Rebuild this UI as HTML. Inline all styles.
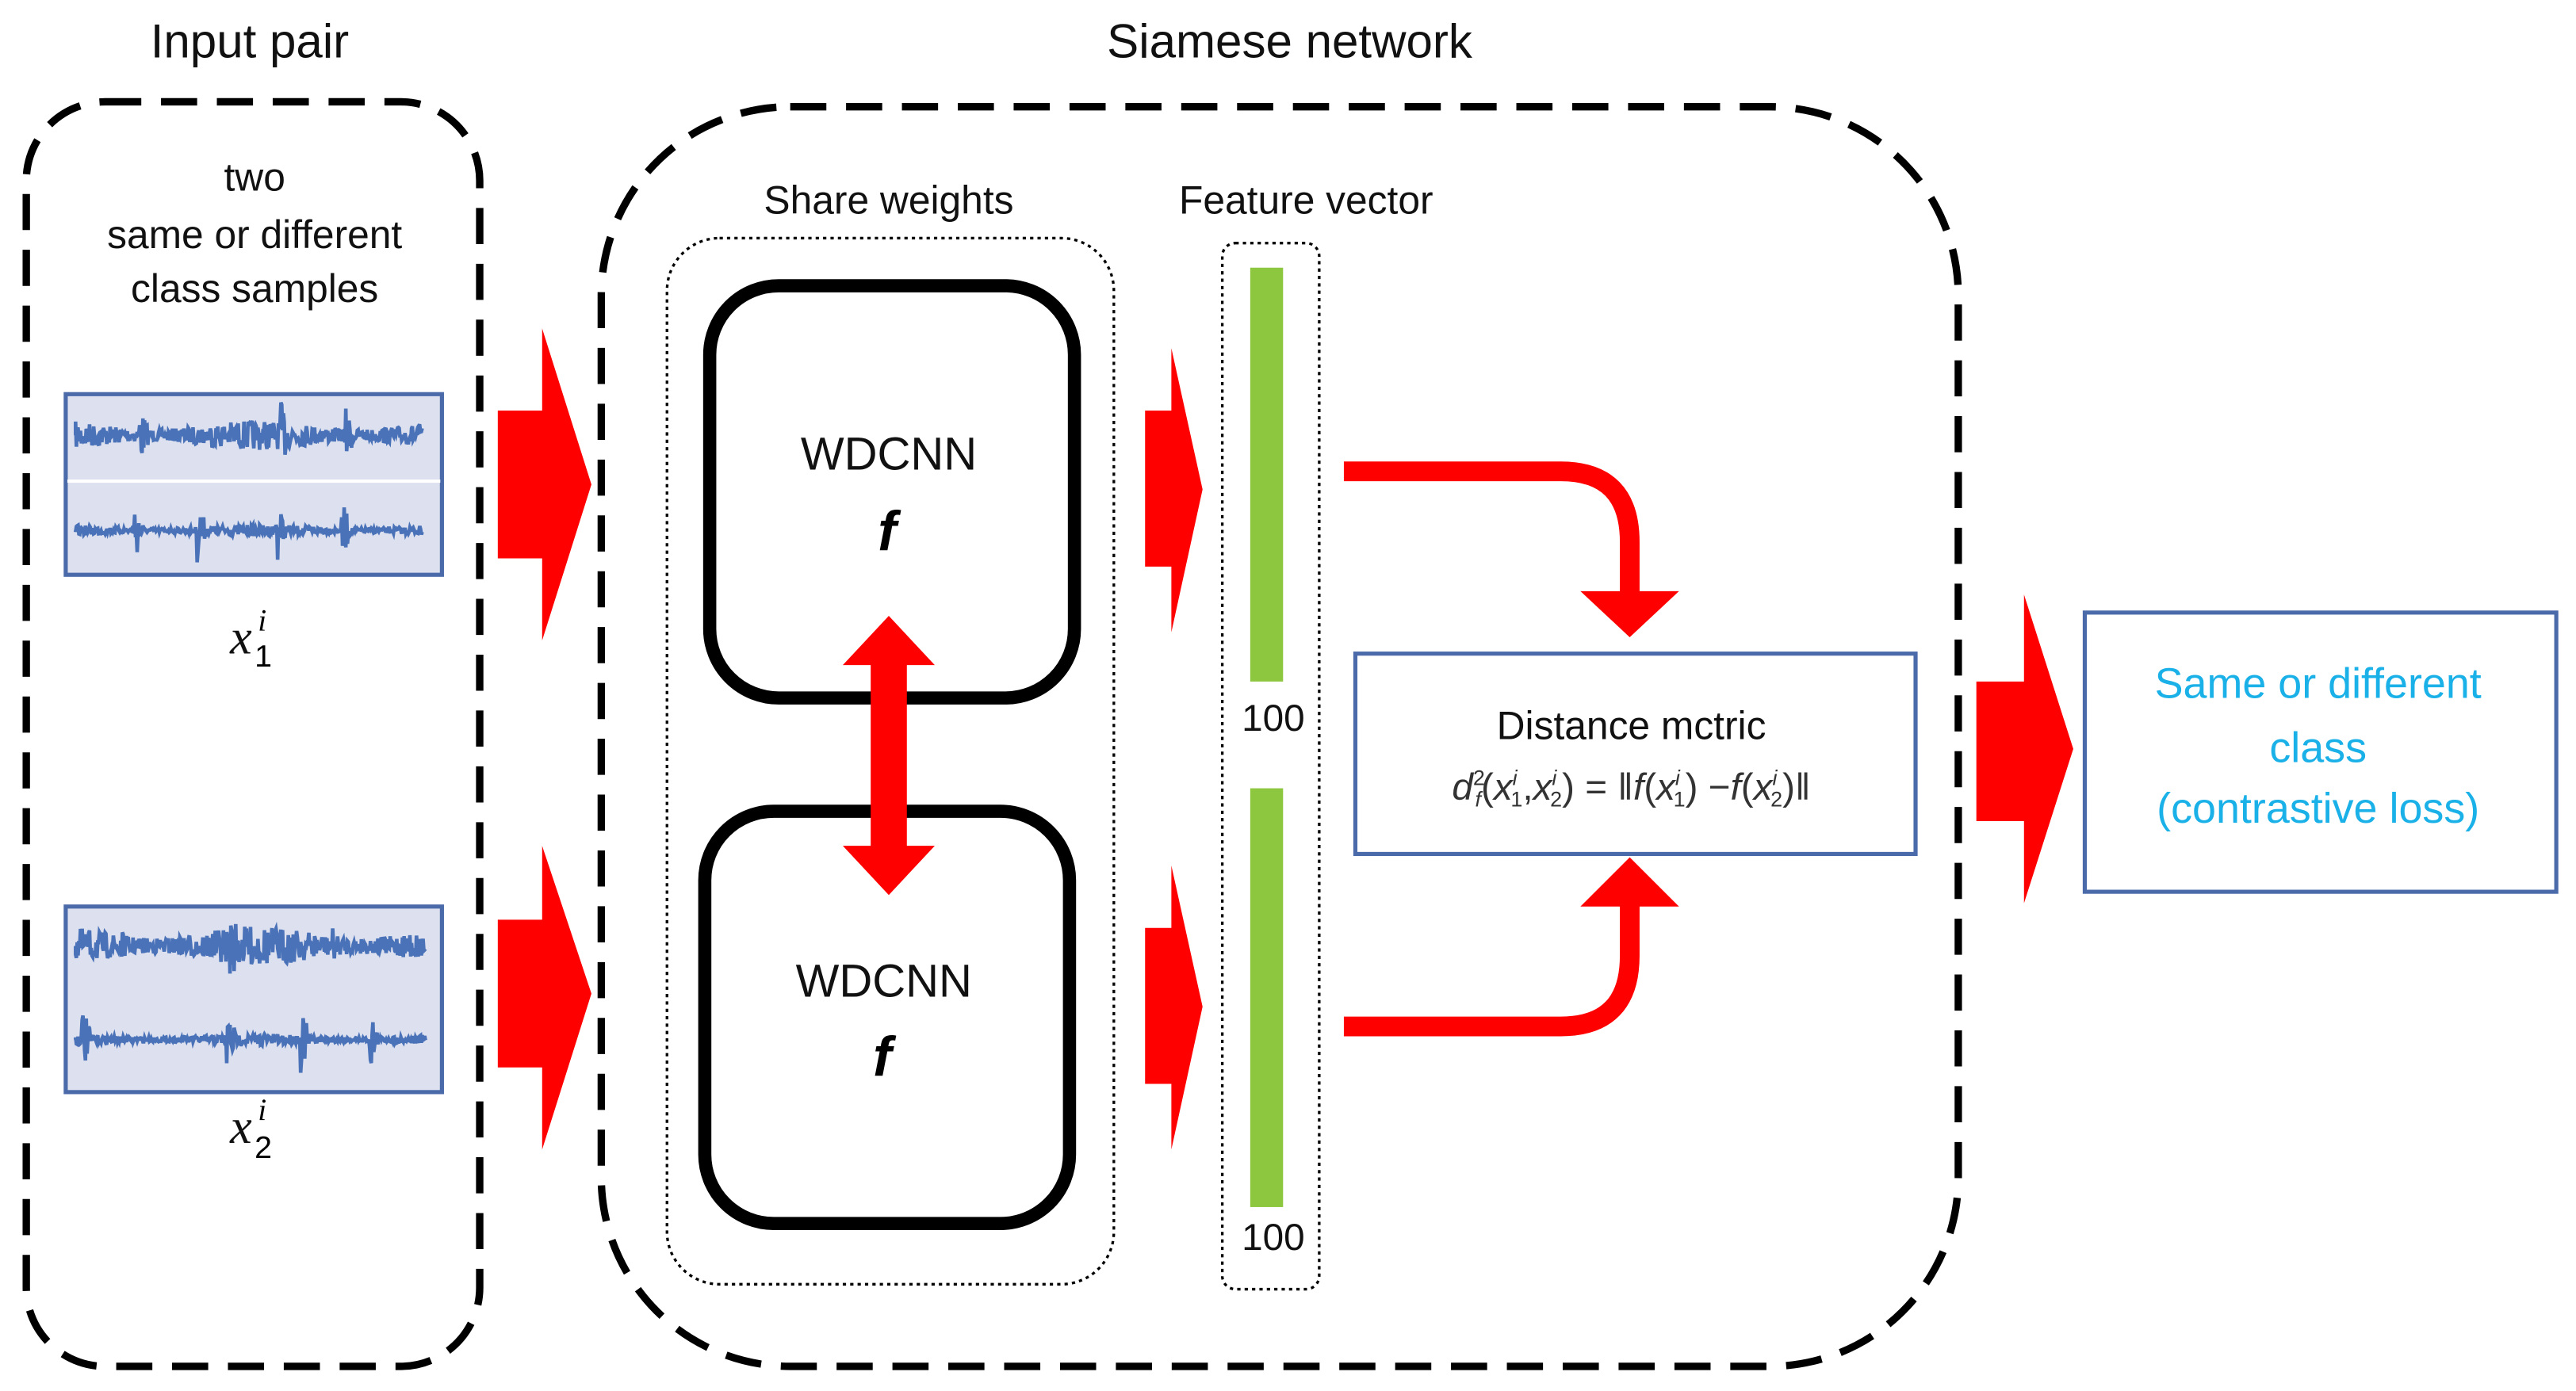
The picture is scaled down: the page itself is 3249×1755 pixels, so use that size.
<!DOCTYPE html>
<html><head><meta charset="utf-8"><style>
html,body{margin:0;padding:0;background:#fff;}
svg{display:block;}
text{font-family:"Liberation Sans",sans-serif;}
.m{font-family:"Liberation Serif",serif;font-style:italic;}
</style></head><body>
<svg id="s" width="3249" height="1755" viewBox="0 0 1568 847" preserveAspectRatio="none" xmlns="http://www.w3.org/2000/svg">
<rect width="1568" height="847" fill="#fff"/>
<text x="152" y="35" font-size="29" text-anchor="middle" fill="#111">Input pair</text>
<text x="785" y="35" font-size="29" text-anchor="middle" fill="#111">Siamese network</text>
<rect x="16" y="62" width="276" height="770" rx="48" fill="none" stroke="#000" stroke-width="4.5" stroke-dasharray="22 12"/>
<rect x="366" y="65" width="826" height="767" rx="115" fill="none" stroke="#000" stroke-width="4.5" stroke-dasharray="22 12"/>
<g font-size="24" text-anchor="middle" fill="#111">
<text x="155" y="116">two</text>
<text x="155" y="151">same or different</text>
<text x="155" y="184">class samples</text>
<text x="541" y="130">Share weights</text>
<text x="795" y="130">Feature vector</text>
</g>
<rect x="40" y="240" width="229" height="110" fill="#dde0ee" stroke="#4a6aaa" stroke-width="2.5"/>
<line x1="41" y1="293" x2="268" y2="293" stroke="#fff" stroke-width="2"/>
<rect x="40" y="552" width="229" height="113" fill="#dde0ee" stroke="#4a6aaa" stroke-width="2.5"/>
<path id="w1" fill="none" stroke="#4a72b8" stroke-width="2.2"/>
<path id="w2" fill="none" stroke="#4a72b8" stroke-width="2.2"/>
<path id="w3" fill="none" stroke="#4a72b8" stroke-width="2.2"/>
<path id="w4" fill="none" stroke="#4a72b8" stroke-width="2.2"/>
<text class="m" x="140" y="398" font-size="30" fill="#111">x</text><text class="m" x="157" y="384" font-size="19">i</text><text x="155" y="406" font-size="19" font-family="Liberation Serif">1</text>
<text class="m" x="140" y="696" font-size="30" fill="#111">x</text><text class="m" x="157" y="682" font-size="19">i</text><text x="155" y="705" font-size="19" font-family="Liberation Serif">2</text>
<g fill="#ff0000">
<polygon points="303,250 330,250 330,200 360,295 330,390 330,340 303,340"/>
<polygon points="303,560 330,560 330,515 360,605 330,700 330,650 303,650"/>
<polygon points="697,250 713,250 713,212 732,298 713,385 713,345 697,345"/>
<polygon points="697,565 713,565 713,527 732,613 713,700 713,660 697,660"/>
<polygon points="1203,415 1232,415 1232,362 1262,456 1232,550 1232,500 1203,500"/>
<polygon points="962,360 1022,360 992,388"/>
<polygon points="962,552 1022,552 992,522"/>
</g>
<path d="M818,287 H950 Q992,287 992,330 V362" fill="none" stroke="#ff0000" stroke-width="12"/>
<path d="M818,625 H950 Q992,625 992,582 V550" fill="none" stroke="#ff0000" stroke-width="12"/>
<rect x="406" y="145" width="272" height="637" rx="32" fill="none" stroke="#000" stroke-width="1.6" stroke-dasharray="2 2.5"/>
<rect x="432" y="174" width="222" height="251" rx="42" fill="none" stroke="#000" stroke-width="8"/>
<rect x="429" y="494" width="222" height="251" rx="42" fill="none" stroke="#000" stroke-width="8"/>
<text x="541" y="286" font-size="28" text-anchor="middle" fill="#111">WDCNN</text>
<text x="538" y="607" font-size="28" text-anchor="middle" fill="#111">WDCNN</text>
<text x="540" y="335" font-size="34" text-anchor="middle" font-family="Liberation Serif" font-style="italic" font-weight="bold">f</text>
<text x="537" y="655" font-size="34" text-anchor="middle" font-family="Liberation Serif" font-style="italic" font-weight="bold">f</text>
<polygon fill="#ff0000" points="530,405 513,405 541,375 569,405 552,405 552,515 569,515 541,545 513,515 530,515"/>
<rect x="744" y="148" width="59" height="637" rx="8" fill="none" stroke="#000" stroke-width="1.6" stroke-dasharray="2 2.5"/>
<rect x="761" y="163" width="20" height="252" fill="#8dc63f"/>
<rect x="761" y="480" width="20" height="255" fill="#8dc63f"/>
<text x="775" y="445" font-size="23" text-anchor="middle" fill="#111">100</text>
<text x="775" y="761" font-size="23" text-anchor="middle" fill="#111">100</text>
<rect x="825" y="398" width="341" height="122" fill="#fff" stroke="#4a6aaa" stroke-width="2.5"/>
<text x="993" y="450" font-size="24" text-anchor="middle" fill="#111">Distance  mctric</text>
<text x="993" y="487" font-size="23" text-anchor="middle" fill="#333" font-family="Liberation Serif"><tspan font-style="italic">d</tspan><tspan font-size="13" dy="-9">2</tspan><tspan font-size="13" dx="-6" dy="13" font-style="italic">f</tspan><tspan dy="-4">(</tspan><tspan font-style="italic">x</tspan><tspan font-size="13" dy="-9" font-style="italic">i</tspan><tspan font-size="13" dx="-4" dy="13">1</tspan><tspan dy="-4">,</tspan><tspan font-style="italic">x</tspan><tspan font-size="13" dy="-9" font-style="italic">i</tspan><tspan font-size="13" dx="-4" dy="13">2</tspan><tspan dy="-4">) = ‖</tspan><tspan font-style="italic">f</tspan><tspan>(</tspan><tspan font-style="italic">x</tspan><tspan font-size="13" dy="-9" font-style="italic">i</tspan><tspan font-size="13" dx="-4" dy="13">1</tspan><tspan dy="-4">) −</tspan><tspan font-style="italic">f</tspan><tspan>(</tspan><tspan font-style="italic">x</tspan><tspan font-size="13" dy="-9" font-style="italic">i</tspan><tspan font-size="13" dx="-4" dy="13">2</tspan><tspan dy="-4">)‖</tspan></text>
<rect x="1269" y="373" width="287" height="170" fill="#fff" stroke="#4a6aaa" stroke-width="2.5"/>
<g font-size="26" text-anchor="middle" fill="#1ab0e8">
<text x="1411" y="425">Same or different</text>
<text x="1411" y="464">class</text>
<text x="1411" y="501">(contrastive  loss)</text>
</g>
</svg>
<script>
(function(){
var seed=7;function r(){seed=(seed*16807)%2147483647;return seed/2147483647;}
function wave(id,x0,x1,yc,amp,spikes,samp){
 var d="M"+x0+","+yc;
 for(var x=x0;x<=x1;x+=0.5){
  var a=amp*(0.7+0.3*Math.sin(x*0.05));
  for(var k=0;k<spikes.length;k++){var dx=x-spikes[k];if(dx>=0&&dx<6)a+=samp*(1-dx/6);}
  d+=" L"+x.toFixed(1)+","+(yc+(r()*2-1)*a).toFixed(1);
 }
 document.getElementById(id).setAttribute("d",d);
}
wave("w1",46,257,265,9,[85,170,210],14);
wave("w2",46,257,323,3.5,[82,120,168,208],18);
wave("w3",46,259,576,12,[70,140,200],8);
wave("w4",46,259,633,3.5,[50,138,183,225],18);
})();
</script>
</body></html>
